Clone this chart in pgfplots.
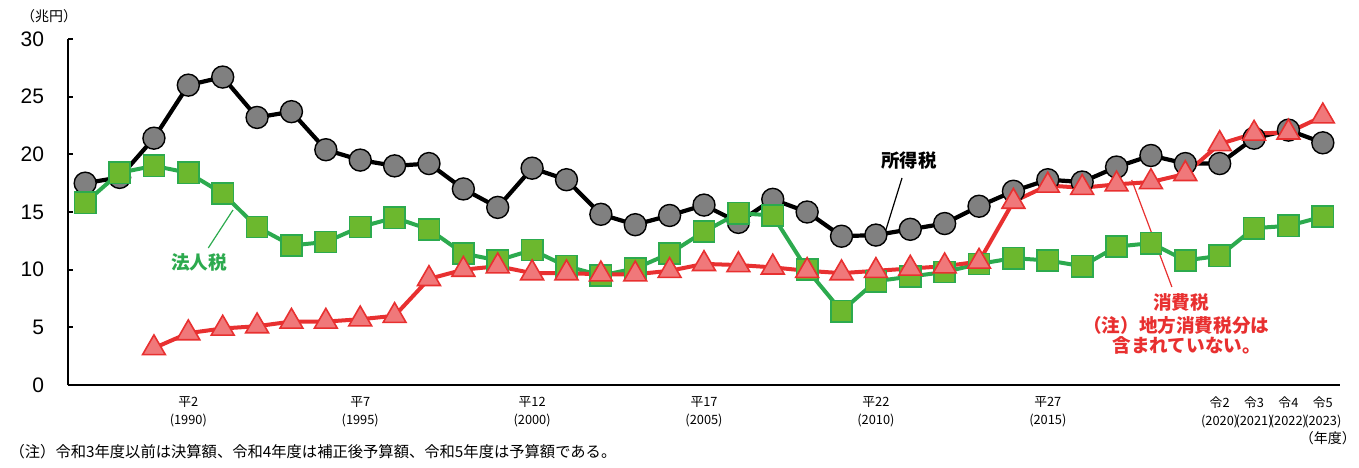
\documentclass[border=0pt]{standalone}
\usepackage{fontspec}
\setmainfont{Liberation Sans}
\newfontfamily\jp{Noto Sans CJK JP}
\usepackage{pgfplots}
\pgfplotsset{compat=1.18}
\usepackage{pgfplotstable}

\definecolor{kuro}{RGB}{0,0,0}
\definecolor{hai}{RGB}{128,128,128}
\definecolor{midori}{RGB}{44,170,78}
\definecolor{midorifill}{RGB}{108,184,46}
\definecolor{aka}{RGB}{232,48,48}
\definecolor{akafill}{RGB}{240,120,122}

% 所得税
\pgfplotstableread{
year val
1987 17.5
1988 18.0
1989 21.4
1990 26.0
1991 26.7
1992 23.2
1993 23.7
1994 20.4
1995 19.5
1996 19.0
1997 19.2
1998 17.0
1999 15.4
2000 18.8
2001 17.8
2002 14.8
2003 13.9
2004 14.7
2005 15.6
2006 14.1
2007 16.1
2008 15.0
2009 12.9
2010 13.0
2011 13.5
2012 14.0
2013 15.5
2014 16.8
2015 17.8
2016 17.6
2017 18.9
2018 19.9
2019 19.2
2020 19.2
2021 21.4
2022 22.1
2023 21.0
}\shotoku

% 法人税
\pgfplotstableread{
year val
1987 15.8
1988 18.4
1989 19.0
1990 18.4
1991 16.6
1992 13.7
1993 12.1
1994 12.4
1995 13.7
1996 14.5
1997 13.5
1998 11.4
1999 10.8
2000 11.7
2001 10.3
2002 9.5
2003 10.1
2004 11.4
2005 13.3
2006 14.9
2007 14.7
2008 10.0
2009 6.4
2010 9.0
2011 9.4
2012 9.8
2013 10.5
2014 11.0
2015 10.8
2016 10.3
2017 12.0
2018 12.3
2019 10.8
2020 11.2
2021 13.6
2022 13.8
2023 14.6
}\hojin

% 消費税
\pgfplotstableread{
year val
1989 3.2
1990 4.5
1991 4.9
1992 5.1
1993 5.5
1994 5.5
1995 5.7
1996 6.0
1997 9.2
1998 10.0
1999 10.3
2000 9.7
2001 9.7
2002 9.6
2003 9.6
2004 9.9
2005 10.5
2006 10.4
2007 10.2
2008 9.9
2009 9.7
2010 9.9
2011 10.1
2012 10.3
2013 10.7
2014 15.9
2015 17.3
2016 17.1
2017 17.4
2018 17.6
2019 18.3
2020 20.9
2021 21.8
2022 21.9
2023 23.3
}\shohi

\begin{document}
\begin{tikzpicture}
\begin{axis}[
  at={(0,0)}, anchor=south west,
  scale only axis, width=636pt, height=173pt,
  xmin=1986.5, xmax=2023.5, ymin=0, ymax=30,
  axis x line*=bottom, axis y line*=left,
  axis line style={-, line width=1.2pt},
  ytick={0,5,...,30},
  tick align=inside, major tick length=2.5pt,
  ytick style={line width=1pt, black},
  xtick={1990,1995,2000,2005,2010,2015,2020,2021,2022,2023},
  xtick style={draw=none},
  xticklabels={{平2\\(1990)},{平7\\(1995)},{平12\\(2000)},{平17\\(2005)},{平22\\(2010)},{平27\\(2015)},{令2\\(2020)},{令3\\(2021)},{令4\\(2022)},{令5\\(2023)}},
  xticklabel style={align=center, font=\jp\fontsize{6.4}{8.6}\selectfont, yshift=-2.5pt},
  yticklabel style={font=\fontsize{10.5}{12}\selectfont, xshift=-8.5pt},
  /pgf/number format/assume math mode=true,
  clip=false,
]
\addplot[kuro, line width=2.1pt, mark=*, mark size=5.5pt,
  mark options={fill=hai, draw=black, line width=0.7pt}] table[x=year,y=val] {\shotoku};
\addplot[midori, line width=2pt, mark=square*, mark size=5.3pt,
  mark options={fill=midorifill, draw=midori, line width=0.8pt}] table[x=year,y=val] {\hojin};
\addplot[aka, line width=2pt, mark=triangle*, mark size=6.6pt,
  mark options={fill=akafill, draw=aka, line width=0.8pt}] table[x=year,y=val] {\shohi};

% 注記
\draw[black, line width=0.6pt] (axis cs:2010.29,13.44) -- (axis cs:2010.76,17.95);
\node[font=\jp\bfseries\fontsize{9.2}{10}\selectfont] at (axis cs:2010.96,19.5) {所得税};
\draw[midori, line width=0.6pt] (axis cs:1991.30,15.18) -- (axis cs:1990.58,11.88);
\node[midori, font=\jp\bfseries\fontsize{9.3}{10}\selectfont] at (axis cs:1990.31,10.67) {法人税};
\draw[aka, line width=0.6pt] (axis cs:2017.44,17.78) -- (axis cs:2018.61,8.50);
\node[aka, font=\jp\bfseries\fontsize{9.3}{10}\selectfont] at (axis cs:2018.88,7.2) {消費税};
\node[aka, font=\jp\bfseries\fontsize{9.3}{10}\selectfont] at (axis cs:2018.74,5.2) {（注）地方消費税分は};
\node[aka, font=\jp\bfseries\fontsize{9.3}{10}\selectfont] at (axis cs:2019.04,3.45) {含まれていない。};

\node[font=\jp\fontsize{7}{9}\selectfont] at (axis cs:1985.95,32.0) {（兆円）};
\node[font=\jp\fontsize{7}{9}\selectfont] at (axis cs:2023.15,-4.6) {（年度）};
\node[anchor=west, inner sep=0pt, font=\jp\fontsize{7.65}{9}\selectfont] at (axis cs:1984.79,-5.81) {（注）令和3年度以前は決算額、令和4年度は補正後予算額、令和5年度は予算額である。};
\end{axis}
\pgfresetboundingbox
\path[use as bounding box] (-34pt,-41pt) rectangle (645.5pt,192.5pt);
\end{tikzpicture}
\end{document}
